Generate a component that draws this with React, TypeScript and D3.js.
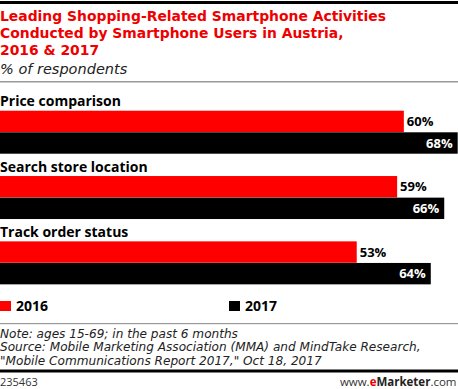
import React from "react";
import * as d3 from "d3";

const categories = ["Price comparison", "Search store location", "Track order status"];
const series2016 = [60, 59, 53];
const series2017 = [68, 66, 64];
const seriesNames = ["2016", "2017"];
const titleLines = [
  "Leading Shopping-Related Smartphone Activities",
  "Conducted by Smartphone Users in Austria,",
  "2016 & 2017",
];
const subtitle = "% of respondents";
const noteLines = [
  "Note: ages 15-69; in the past 6 months",
  "Source: Mobile Marketing Association (MMA) and MindTake Research,",
  "\"Mobile Communications Report 2017,\" Oct 18, 2017",
];
const chartId = "235463";

const W = 458;
const H = 389;
const RED = "#ff0000";
const BLACK = "#000000";
const FONT = "'Open Sans', 'DejaVu Sans', sans-serif";
const WIDE = "'DejaVu Sans', Verdana, sans-serif";

export default function App() {
  const x = d3.scaleLinear().domain([0, 68]).range([0, 457.7]);
  const y = d3.scaleBand<string>().domain(categories).range([88, 88 + 3 * 65.33]).paddingInner(0);
  const barH = 21.4;
  const redOff = 22.7;
  const blackOff = redOff + barH + 0.2;

  return (
    <svg width={W} height={H} style={{ position: "absolute", left: 0, top: 0, background: "#fff" }} fontFamily={FONT}>
      <rect x={0} y={1} width={W} height={3} fill="#000" />
      {titleLines.map((t, i) => (
        <text key={i} x={0} y={21 + i * 17} fill="#ee0000" fontSize={13.9} fontWeight={700} fontFamily={WIDE}>{t}</text>
      ))}
      <text x={0} y={74} fontSize={14.5} fontStyle="italic" fill="#222" fontFamily={WIDE}>{subtitle}</text>
      <rect x={0} y={81} width={W} height={1.5} fill="#999" />

      {categories.map((c, i) => {
        const g = y(c)!;
        return (
          <g key={c}>
            <text x={0} y={g + 18.3} fontSize={14} fontWeight={700} fill="#000">{c}</text>
            <rect x={0} y={g + redOff} width={x(series2016[i])} height={barH} fill={RED} />
            <rect x={0} y={g + blackOff} width={x(series2017[i])} height={barH} fill={BLACK} />
            <text x={x(series2016[i]) + 3} y={g + redOff + barH / 2 + 4.7} fontSize={13} fontWeight={700} fill="#000">{series2016[i]}%</text>
            <text x={x(series2017[i]) - 5} y={g + blackOff + barH / 2 + 4.7} fontSize={13} fontWeight={700} fill="#fff" textAnchor="end">{series2017[i]}%</text>
          </g>
        );
      })}

      <rect x={0} y={301} width={11} height={10} fill={RED} />
      <text x={16} y={311} fontSize={14} fontWeight={700}>{seriesNames[0]}</text>
      <rect x={229} y={301} width={11} height={10} fill={BLACK} />
      <text x={245} y={311} fontSize={14} fontWeight={700}>{seriesNames[1]}</text>

      <rect x={0} y={323} width={W} height={1.2} fill="#999" />
      {noteLines.map((t, i) => (
        <text key={i} x={0} y={337.5 + i * 13.5} fontSize={12.1} fontStyle="italic" fill="#222" fontFamily={WIDE}>{t}</text>
      ))}
      <rect x={0} y={369.5} width={W} height={3} fill="#000" />
      <text x={0} y={386} fontSize={11} fill="#333">{chartId}</text>
      <text x={456.5} y={386} fontSize={11.5} fill="#333" textAnchor="end">
        www.<tspan fill="#ee0000" fontWeight={700}>e</tspan><tspan fontWeight={700} fill="#222">Marketer</tspan>.com
      </text>
    </svg>
  );
}
